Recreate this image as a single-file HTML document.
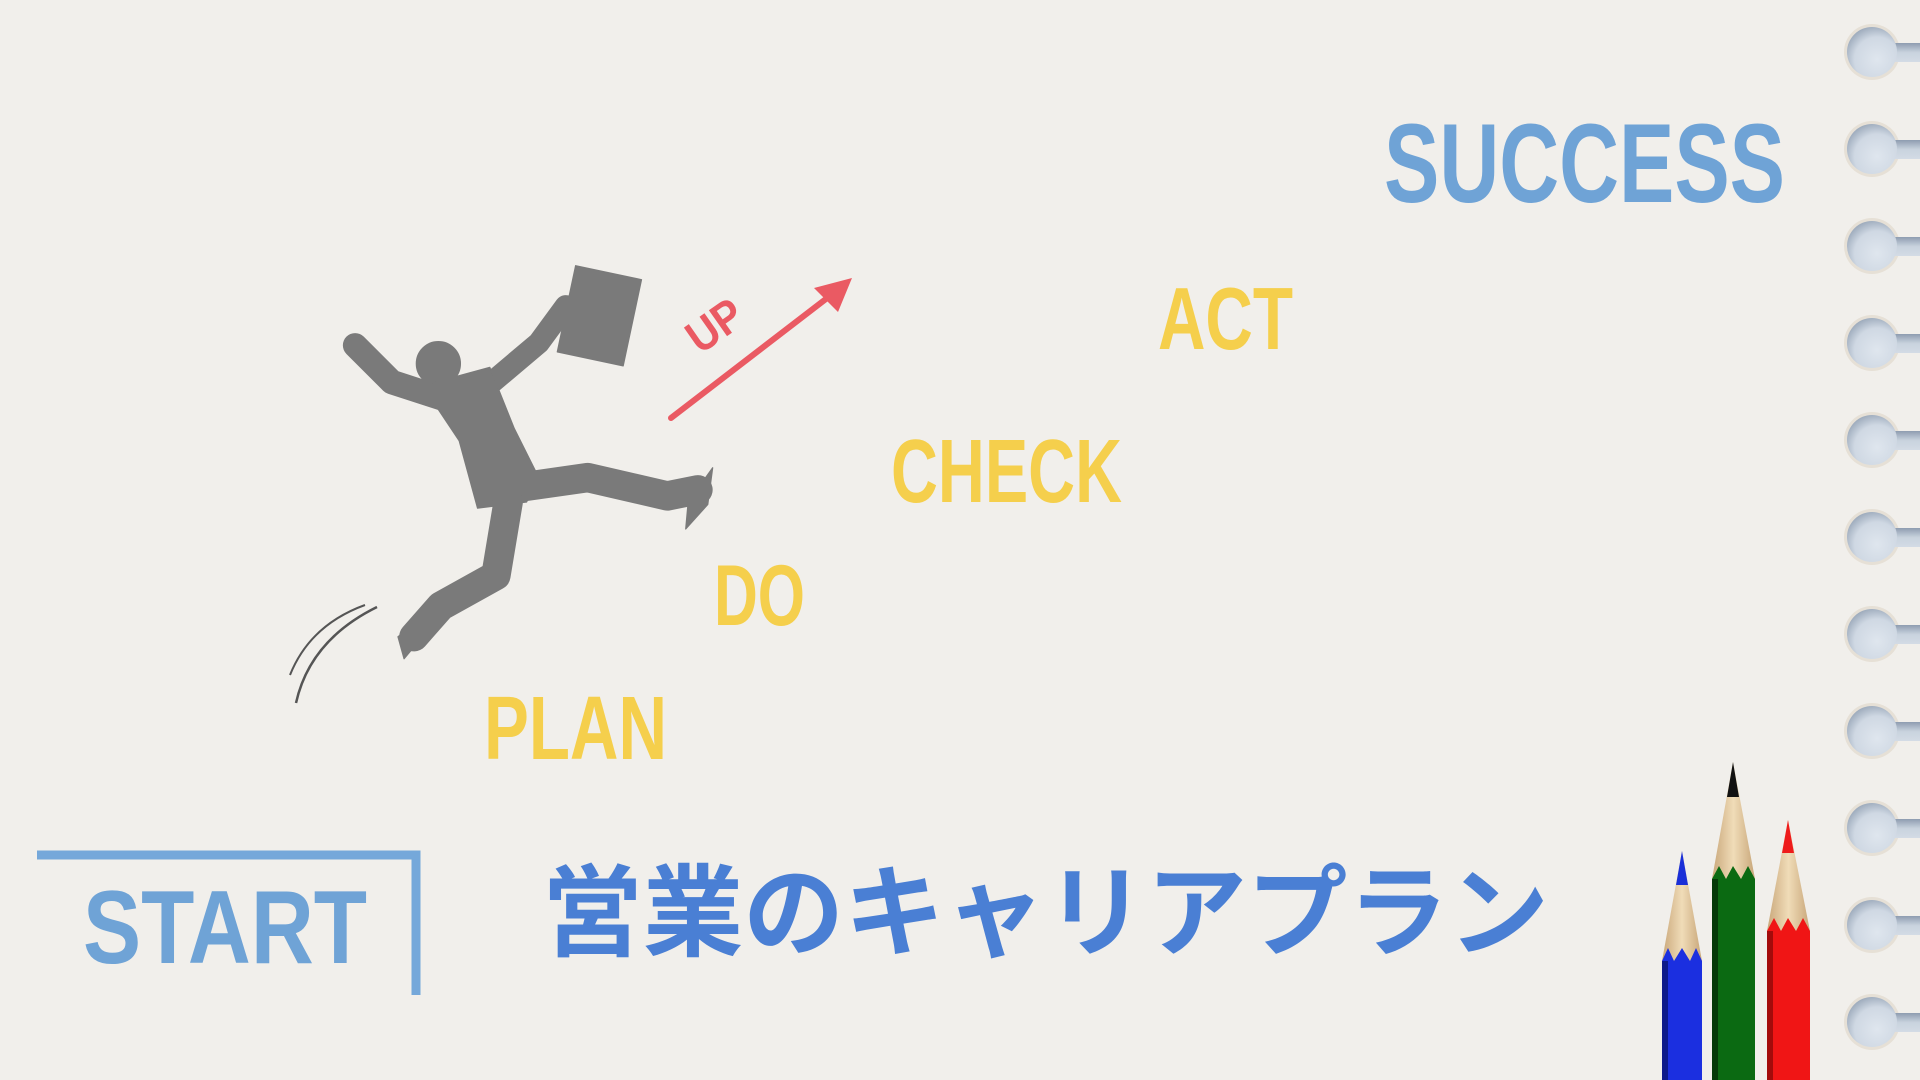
<!DOCTYPE html>
<html><head><meta charset="utf-8"><style>
html,body{margin:0;padding:0;width:1920px;height:1080px;overflow:hidden;background:#f1efeb}
svg{display:block}
</style></head><body>
<svg width="1920" height="1080" viewBox="0 0 1920 1080" xmlns="http://www.w3.org/2000/svg">
<defs>
<radialGradient id="hole" cx="0.6" cy="0.65" r="0.75">
<stop offset="0" stop-color="#dfe6ee"/><stop offset="0.6" stop-color="#cfd8e3"/><stop offset="1" stop-color="#8e9db0"/>
</radialGradient>
<linearGradient id="bar" x1="0" y1="0" x2="0" y2="1">
<stop offset="0" stop-color="#8e9cb0"/><stop offset="0.5" stop-color="#c9d3de"/><stop offset="1" stop-color="#d3dbe5"/>
</linearGradient>
<linearGradient id="wood" x1="0" y1="0" x2="1" y2="0">
<stop offset="0" stop-color="#c9a77a"/><stop offset="0.5" stop-color="#f0dcb8"/><stop offset="1" stop-color="#c8a679"/>
</linearGradient>
</defs>
<rect width="1920" height="1080" fill="#f1efeb"/>

<g>
<g id="h">
<circle cx="1872" cy="52" r="28" fill="#e6e0d6"/>
<rect x="1872" y="43" width="48" height="19" fill="url(#bar)"/>
<circle cx="1872" cy="52" r="25" fill="url(#hole)"/>
</g>
<use href="#h" y="97"/><use href="#h" y="194"/><use href="#h" y="291"/><use href="#h" y="388"/>
<use href="#h" y="485"/><use href="#h" y="582"/><use href="#h" y="679"/><use href="#h" y="776"/>
<use href="#h" y="873"/><use href="#h" y="970"/>
</g>

<g font-family="Liberation Sans, sans-serif" font-weight="bold">
<text x="1384" y="202" font-size="112" fill="#6fa3d6" textLength="401" lengthAdjust="spacingAndGlyphs">SUCCESS</text>
<text x="1158" y="349" font-size="88" fill="#f5cf4c" textLength="135" lengthAdjust="spacingAndGlyphs">ACT</text>
<text x="891" y="502" font-size="90" fill="#f5cf4c" textLength="231" lengthAdjust="spacingAndGlyphs">CHECK</text>
<text x="714" y="625" font-size="86" fill="#f5cf4c" textLength="91" lengthAdjust="spacingAndGlyphs">DO</text>
<text x="484" y="759" font-size="90" fill="#f5cf4c" textLength="183" lengthAdjust="spacingAndGlyphs">PLAN</text>
<text x="83" y="963" font-size="104" fill="#6fa3d6" textLength="284" lengthAdjust="spacingAndGlyphs">START</text>
<text x="0" y="0" font-size="46" fill="#ea5a63" transform="translate(700,355) rotate(-35)" textLength="58" lengthAdjust="spacingAndGlyphs">UP</text>
</g>
<text x="542" y="948" font-family="Liberation Sans, Noto Sans CJK JP, sans-serif" font-weight="bold" font-size="100" fill="#4a7fd4" textLength="1007" lengthAdjust="spacingAndGlyphs">営業のキャリアプラン</text>

<path d="M37 855 H416 V995" fill="none" stroke="#75a8da" stroke-width="9"/>

<line x1="671" y1="418" x2="835" y2="292" stroke="#ea5a63" stroke-width="6" stroke-linecap="round"/>
<polygon points="852,278 814,288 838,312" fill="#ea5a63"/>

<path d="M296 703 Q310 640 377 607" fill="none" stroke="#555" stroke-width="2.5"/>
<path d="M290 675 Q310 625 365 605" fill="none" stroke="#555" stroke-width="2"/>

<g transform="scale(1.2245)" fill="#7a7a7a" stroke="#7a7a7a" stroke-linecap="round" stroke-linejoin="round">
<rect x="462" y="222" width="55" height="72" transform="rotate(12 490 258)"/>
<polyline points="290,282 320,312 360,325" fill="none" stroke-width="20"/>
<polyline points="395,318 440,280 462,250" fill="none" stroke-width="18"/>
<circle cx="358" cy="297" r="18"/>
<polygon points="345,315 400,300 420,350 440,390 430,410 390,415 375,360"/>
<polyline points="410,400 480,390 545,405 570,400" fill="none" stroke-width="24"/>
<polygon points="562,410 582,382 578,412 560,432"/>
<polyline points="415,410 405,470 360,495 338,520" fill="none" stroke-width="24"/>
<polygon points="325,520 345,505 345,520 330,538"/>
</g>

<g>
<polygon points="1662,1080 1662,961 1682,851 1702,961 1702,1080" fill="url(#wood)"/>
<polygon points="1676,885 1682,851 1688,885" fill="#1a2fd8"/>
<rect x="1662" y="961" width="40" height="119" fill="#1b2fe0"/>
<rect x="1662" y="961" width="6" height="119" fill="#0e1a8a"/>
<polygon points="1662,961 1668,948 1674,961 1682,948 1690,961 1696,948 1702,961" fill="#1b2fe0"/>

<polygon points="1767,1080 1767,931 1788,820 1810,931 1810,1080" fill="url(#wood)"/>
<polygon points="1782,853 1788,820 1794,853" fill="#ee1b1b"/>
<rect x="1767" y="931" width="43" height="149" fill="#f01515"/>
<rect x="1767" y="931" width="6" height="149" fill="#a30b0b"/>
<polygon points="1767,931 1774,918 1781,931 1788,918 1796,931 1803,918 1810,931" fill="#f01515"/>

<polygon points="1712,1080 1712,879 1733,762 1755,879 1755,1080" fill="url(#wood)"/>
<polygon points="1727,797 1733,762 1739,797" fill="#111"/>
<rect x="1712" y="879" width="43" height="201" fill="#0b6a12"/>
<rect x="1712" y="879" width="6" height="201" fill="#043a08"/>
<polygon points="1712,879 1719,866 1726,879 1733,866 1741,879 1748,866 1755,879" fill="#0b6a12"/>
</g>
</svg>
</body></html>
